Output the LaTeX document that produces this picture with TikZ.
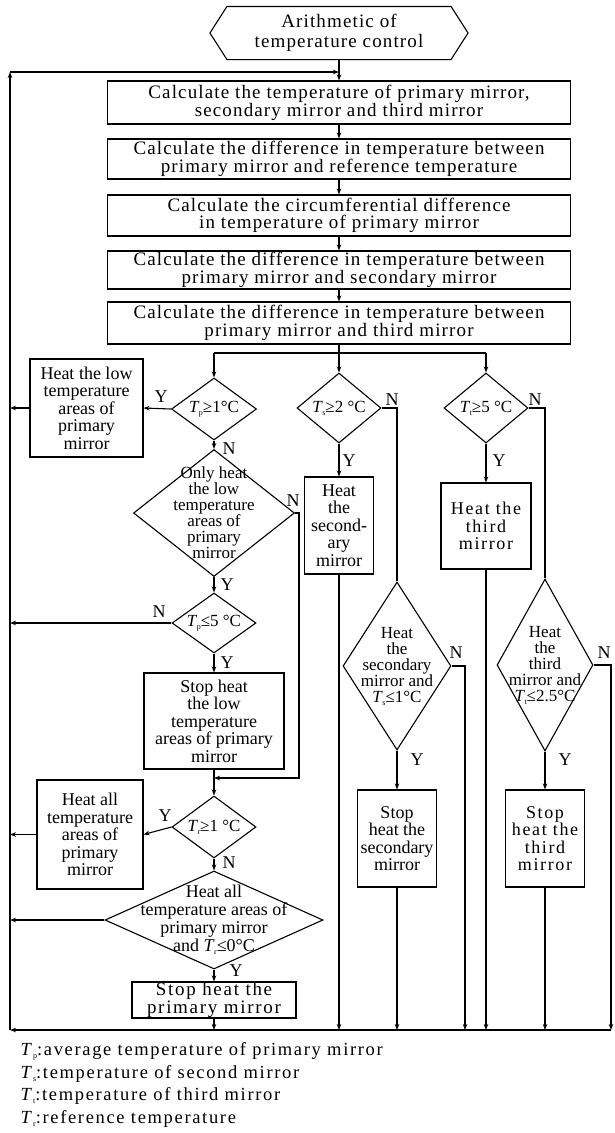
\documentclass[tikz,border=0pt]{standalone}
\usepackage{fontspec}
\setmainfont{Liberation Serif}
\newfontfamily\spacedfont[LetterSpace=6]{Liberation Serif}
\newfontfamily\widefont[LetterSpace=9]{Liberation Serif}
\usetikzlibrary{shapes.geometric,arrows.meta}
\newcommand{\Tx}[1]{\textit{T}\kern-0.5pt\raisebox{-3pt}{\fontsize{8}{8}\selectfont #1}}

\begin{document}
\begin{tikzpicture}[x=1pt, y=-1pt, line width=1.1pt,
      >={Stealth[length=6pt,width=4.5pt]},
      every node/.style = {inner sep=0pt, align=center, font=\fontsize{18}{17.5}\selectfont},
      box/.style = {draw, rectangle},
      widebox/.style = {box, font=\widefont\fontsize{18}{17.5}\selectfont},
      mainbox/.style = {box, minimum width=463pt, font=\spacedfont\fontsize{19}{16.8}\selectfont},
      dia/.style = {draw, diamond},
      diatext/.style = {font=\fontsize{17}{16}\selectfont},
      lab/.style = {font=\fontsize{18}{18}\selectfont}]
    \useasboundingbox (0,0) rectangle (614,1133);

    \node[minimum width=257pt, minimum height=52pt, font=\spacedfont\fontsize{19}{20.5}\selectfont]
      (start) at (339,33) {Arithmetic of\\temperature control};
    \draw (start.west) -- ([xshift=17pt]start.north west) -- ([xshift=-17pt]start.north east)
      -- (start.east) -- ([xshift=-17pt]start.south east) -- ([xshift=17pt]start.south west) -- cycle;

    \node[mainbox, minimum height=43pt] (calc1) at (339,102.5)
      {Calculate the temperature of primary mirror,\\secondary mirror and third mirror};
    \node[mainbox, minimum height=40pt] (calc2) at (339,159)
      {Calculate the difference in temperature between\\primary mirror and reference temperature};
    \node[mainbox, minimum height=41pt] (calc3) at (339,215.5)
      {Calculate the circumferential difference\\in temperature of primary mirror};
    \node[mainbox, minimum height=38pt] (calc4) at (339,270)
      {Calculate the difference in temperature between\\primary mirror and secondary mirror};
    \node[mainbox, minimum height=42pt] (calc5) at (339,323)
      {Calculate the difference in temperature between\\primary mirror and third mirror};

    \node[dia, minimum width=85pt, minimum height=62pt,
      label={[diatext]center:\Tx{p}≥1°C}] (dp) at (214,409) {};
    \node[dia, minimum width=84pt, minimum height=70pt,
      label={[diatext]center:\Tx{s}≥2 °C}] (ds) at (339,408) {};
    \node[dia, minimum width=84pt, minimum height=70pt,
      label={[diatext]center:\Tx{t}≥5 °C}] (dt) at (486,408) {};

    \node[box, minimum width=113pt, minimum height=98pt] (heatlow) at (86.5,408)
      {Heat the low\\temperature\\areas of\\primary\\mirror};
    \node[box, minimum width=69pt, minimum height=97pt] (heatsec) at (339,525.5)
      {Heat\\the\\second-\\ary\\mirror};
    \node[widebox, minimum width=90pt, minimum height=86pt] (heatthird) at (486,526)
      {Heat the\\third\\mirror};

    \node[dia, minimum width=161pt, minimum height=127pt,
      label={[diatext]center:Only heat\\the low\\temperature\\areas of\\primary\\mirror}] (donly) at (214,513) {};
    \node[dia, minimum width=84pt, minimum height=60pt,
      label={[diatext]center:\Tx{p}≤5 °C}] (dp5) at (214,623) {};
    \node[box, minimum width=140pt, minimum height=96pt] (stoplow) at (214,721)
      {Stop heat\\the low\\temperature\\areas of primary\\mirror};

    \node[dia, minimum width=108pt, minimum height=168pt,
      label={[diatext]center:Heat\\the\\secondary\\mirror and\\\Tx{s}≤1°C}] (dsec) at (397,666) {};
    \node[dia, minimum width=96pt, minimum height=172pt,
      label={[diatext]center:Heat\\the\\third\\mirror and\\\Tx{t}≤2.5°C}] (dthird) at (545,665) {};

    \node[dia, minimum width=84pt, minimum height=62pt,
      label={[diatext]center:\Tx{r}≥1 °C}] (dr) at (214,827) {};
    \node[box, minimum width=106pt, minimum height=109pt] (heatall) at (90,834.5)
      {Heat all\\temperature\\areas of\\primary\\mirror};
    \node[dia, minimum width=218pt, minimum height=98pt,
      label={[font=\fontsize{18}{18}\selectfont]center:Heat all\\temperature areas of\\primary mirror\\and \Tx{r}≤0°C}] (dall) at (214,920) {};
    \node[widebox, minimum width=164pt, minimum height=36pt, font=\widefont\fontsize{19}{16}\selectfont]
      (stopprim) at (214,1000) {Stop heat the\\primary mirror};

    \node[box, minimum width=79pt, minimum height=97pt] (stopsec) at (397,838.5)
      {Stop\\heat the\\secondary\\mirror};
    \node[widebox, minimum width=79pt, minimum height=97pt] (stopthird) at (545,838.5)
      {Stop\\heat the\\third\\mirror};

    \node[anchor=north west, align=left, font=\widefont\fontsize{18.5}{22.5}\selectfont] (legend) at (20,1042)
      {\Tx{p}:average temperature of primary mirror\\
       \Tx{s}:temperature of second mirror\\
       \Tx{t}:temperature of third mirror\\
       \Tx{r}:reference temperature};

    \coordinate (fbtop) at (10,72);
    \coordinate (fbbot) at (10,1030);
    \coordinate (join) at (339,72);
    \coordinate (brleft) at (214,353);
    \coordinate (brright) at (486,353);
    \coordinate (backlow) at (299,778);
    \coordinate (nsec) at (465,1030);
    \coordinate (nthird) at (611,1030);

    \draw[->] (start.south) -- (calc1.north);
    \draw[->] (calc1) -- (calc2);
    \draw[->] (calc2) -- (calc3);
    \draw[->] (calc3) -- (calc4);
    \draw[->] (calc4) -- (calc5);
    \draw[->] (fbbot) -- (fbtop);
    \draw[->] (fbtop) -- (join);
    \draw[->] (nthird) -- (fbbot);

    \draw (brleft) -- (brright);
    \draw[->] (brleft) -- (dp.north);
    \draw[->] (calc5.south) -- (ds.north);
    \draw[->] (brright) -- (dt.north);

    \draw[->] (dp.west) -- (heatlow.east);
    \draw[->] (heatlow.west) -- (heatlow.west -| fbtop);
    \draw[->] (dp.south) -- (donly.north);
    \draw[->] (donly.south) -- (dp5.north);
    \draw[->] (donly.east) -| (backlow) -- (backlow -| stoplow.south);
    \draw[->] (dp5.west) -- (dp5.west -| fbtop);
    \draw[->] (dp5.south) -- (stoplow.north);
    \draw[->] (stoplow.south) -- (dr.north);
    \draw[->] (dr.west) -- (heatall.east);
    \draw[->] (heatall.west) -- (heatall.west -| fbtop);
    \draw[->] (dr.south) -- (dall.north);
    \draw[->] (dall.west) -- (dall.west -| fbtop);
    \draw[->] (dall.south) -- (stopprim.north);
    \draw[->] (stopprim.south) -- (stopprim.south |- fbbot);

    \draw[->] (ds.south) -- (heatsec.north);
    \draw[->] (heatsec.south) -- (heatsec.south |- fbbot);
    \draw (ds.east) -| (dsec.north);
    \draw[->] (dsec.south) -- (stopsec.north);
    \draw[->] (dsec.east) -| (nsec);
    \draw[->] (stopsec.south) -- (stopsec.south |- fbbot);

    \draw[->] (dt.south) -- (heatthird.north);
    \draw[->] (heatthird.south) -- (heatthird.south |- fbbot);
    \draw (dt.east) -| (dthird.north);
    \draw[->] (dthird.south) -- (stopthird.north);
    \draw[->] (dthird.east) -| (nthird);
    \draw[->] (stopthird.south) -- (stopthird.south |- fbbot);

    \node[lab] (ydp) at (161,397) {Y};
    \node[lab] (ndp) at (229,449) {N};
    \node[lab] (nonly) at (293,501) {N};
    \node[lab] (yonly) at (227,585) {Y};
    \node[lab] (ndp5) at (159,612) {N};
    \node[lab] (ydp5) at (227,663) {Y};
    \node[lab] (ydr) at (165,816) {Y};
    \node[lab] (ndr) at (229,863) {N};
    \node[lab] (yall) at (236,971) {Y};
    \node[lab] (nds) at (392,400) {N};
    \node[lab] (yds) at (349,461) {Y};
    \node[lab] (ndt) at (535,400) {N};
    \node[lab] (ydt) at (499,461) {Y};
    \node[lab] (ndsec) at (456,653) {N};
    \node[lab] (ydsec) at (417,760) {Y};
    \node[lab] (ndthird) at (604,653) {N};
    \node[lab] (ydthird) at (565,760) {Y};
\end{tikzpicture}
\end{document}
